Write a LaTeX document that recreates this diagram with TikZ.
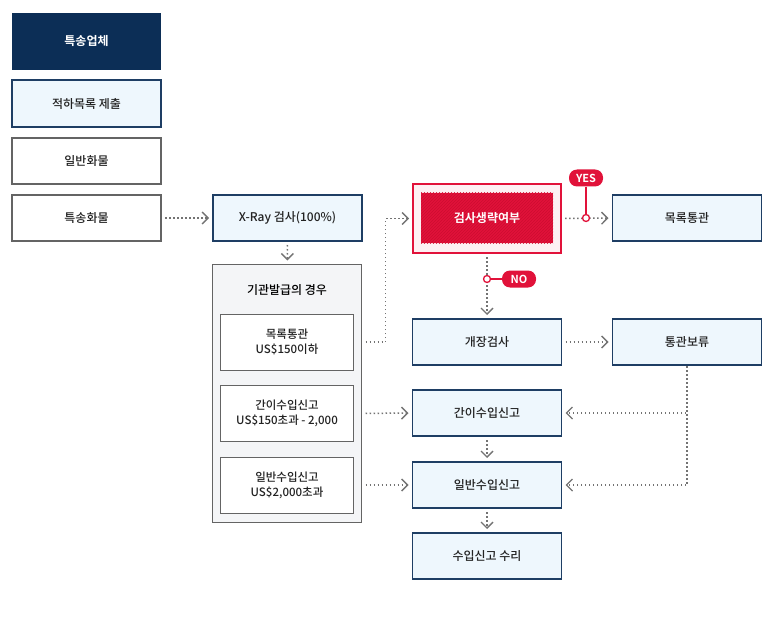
\documentclass[tikz,border=0pt]{standalone}
\usepackage{fontspec}
\setmainfont{Noto Sans CJK KR}[UprightFont=* Medium, BoldFont=* Bold]
\usepackage{xcolor}
\usepackage{tikz}
\usetikzlibrary{arrows.meta,positioning,patterns}
\definecolor{navy}{RGB}{12, 46, 86}
\definecolor{navyline}{RGB}{30, 62, 100}
\definecolor{skyfill}{RGB}{238, 247, 253}
\definecolor{boxline}{RGB}{100, 100, 100}
\definecolor{casefill}{RGB}{244, 245, 247}
\definecolor{flowgray}{RGB}{115, 115, 115}
\definecolor{alert}{RGB}{225, 18, 58}
\definecolor{alertdark}{RGB}{205, 12, 48}
\definecolor{pinkfill}{RGB}{253, 240, 243}
\definecolor{ink}{RGB}{34, 34, 34}
\tikzstyle{anybox} = [rectangle, outer sep=0pt, minimum width=149pt, minimum height=46pt, text=ink, align=center]
\tikzstyle{headbox} = [anybox, fill=navy, text=white, font=\fontsize{12}{15}\selectfont\bfseries, minimum height=57pt]
\tikzstyle{bluebox} = [anybox, draw=navyline, line width=1.6pt, fill=skyfill]
\tikzstyle{graybox} = [anybox, draw=boxline, line width=1.6pt, fill=white]
\tikzstyle{casebox} = [anybox, draw=boxline, line width=1.6pt, fill=casefill, minimum height=258pt]
\tikzstyle{innerbox} = [anybox, draw=boxline, line width=0.8pt, fill=white, minimum width=133pt, minimum height=56pt, font=\fontsize{11.5}{15}\selectfont]
\tikzstyle{redframe} = [anybox, draw=alert, line width=1.6pt, fill=pinkfill, minimum width=148pt, minimum height=69pt]
\tikzstyle{redbox} = [anybox, fill=alert, text=white, font=\fontsize{12}{15}\selectfont\bfseries, minimum width=132pt, minimum height=50pt, postaction={pattern=north east lines, pattern color=alertdark}]
\tikzstyle{badge} = [rectangle, rounded corners=8pt, fill=alert, text=white, font=\fontsize{11}{13}\selectfont\bfseries, minimum width=34pt, minimum height=17pt, inner sep=2pt]
\tikzstyle{dotmark} = [circle, draw=alert, line width=1.3pt, fill=white, minimum size=7pt, inner sep=0pt]
\tikzstyle{redline} = [draw=alert, line width=1.3pt]
\tikzstyle{flow} = [draw=flowgray, line width=1.5pt, dash pattern=on 1.5pt off 2.5pt, -{Straight Barb[length=6pt, width=12pt, line width=1.4pt]}, shorten >=4pt, shorten <=4pt]
\tikzstyle{flowin} = [flow, shorten <=12pt]

\begin{document}
\begin{tikzpicture}[x=1pt, y=-1pt, font=\fontsize{12}{15}\selectfont]
\useasboundingbox (0,0) rectangle (775,620);

% 범례 ==============================
\node[headbox] (agent) at (86.5,41.5) {특송업체};
\node[bluebox, minimum height=47pt] (manifest) at (86.5,103.5) {적하목록 제출};
\node[graybox] (normal) at (86.5,161) {일반화물};
\node[graybox] (express) at (86.5,218) {특송화물};

% X-Ray / 기관발급
\node[bluebox, right=52pt of express] (xray) {X-Ray 검사(100\%)};
\node[casebox] (cases) at (287,393.5) {};
\node (casetitle) at (287,290) {기관발급의 경우};
\node[innerbox] (listcase) at (287,342) {목록통관\\US\$150이하};
\node[innerbox] (simplecase) at (287,413.5) {간이수입신고\\US\$150초과 - 2,000};
\node[innerbox] (generalcase) at (287,485) {일반수입신고\\US\$2,000초과};

% 통관 단계
\node[redframe] (skipframe) at (487,218.5) {};
\node[redbox] (skip) at (487,218) {검사생략여부};
\node[bluebox] (listpass) at (687,218) {목록통관};
\node[bluebox] (open) at (487,342) {개장검사};
\node[bluebox] (hold) at (687,342) {통관보류};
\node[bluebox] (simple) at (487,413) {간이수입신고};
\node[bluebox] (general) at (487,485) {일반수입신고};
\node[bluebox] (accept) at (487,556) {수입신고 수리};

% edges
\draw[flow] (express) -- (xray);
\draw[flow] (xray) -- (cases);
\draw[flowin] (listcase.east) -- ++(32,0) |- (skipframe.west);
\draw[flowin] (simplecase.east) -- (simple.west);
\draw[flowin] (generalcase.east) -- (general.west);
\draw[flow] (skipframe) -- (listpass);
\draw[flow] (skipframe) -- (open);
\draw[flow] (open) -- (hold);
\draw[flow, shorten <=1pt] (hold.south) |- (simple.east);
\draw[flow, shorten <=1pt] (hold.south) |- (general.east);
\draw[flow] (simple) -- (general);
\draw[flow] (general) -- (accept);

% YES / NO
\node[badge] (yes) at (586,178) {YES};
\node[dotmark] (yesdot) at (586,218) {};
\draw[redline] (yes) -- (yesdot);
\node[badge] (no) at (519,279) {NO};
\node[dotmark] (nodot) at (487,279) {};
\draw[redline] (nodot) -- (no);

\end{tikzpicture}
\end{document}
